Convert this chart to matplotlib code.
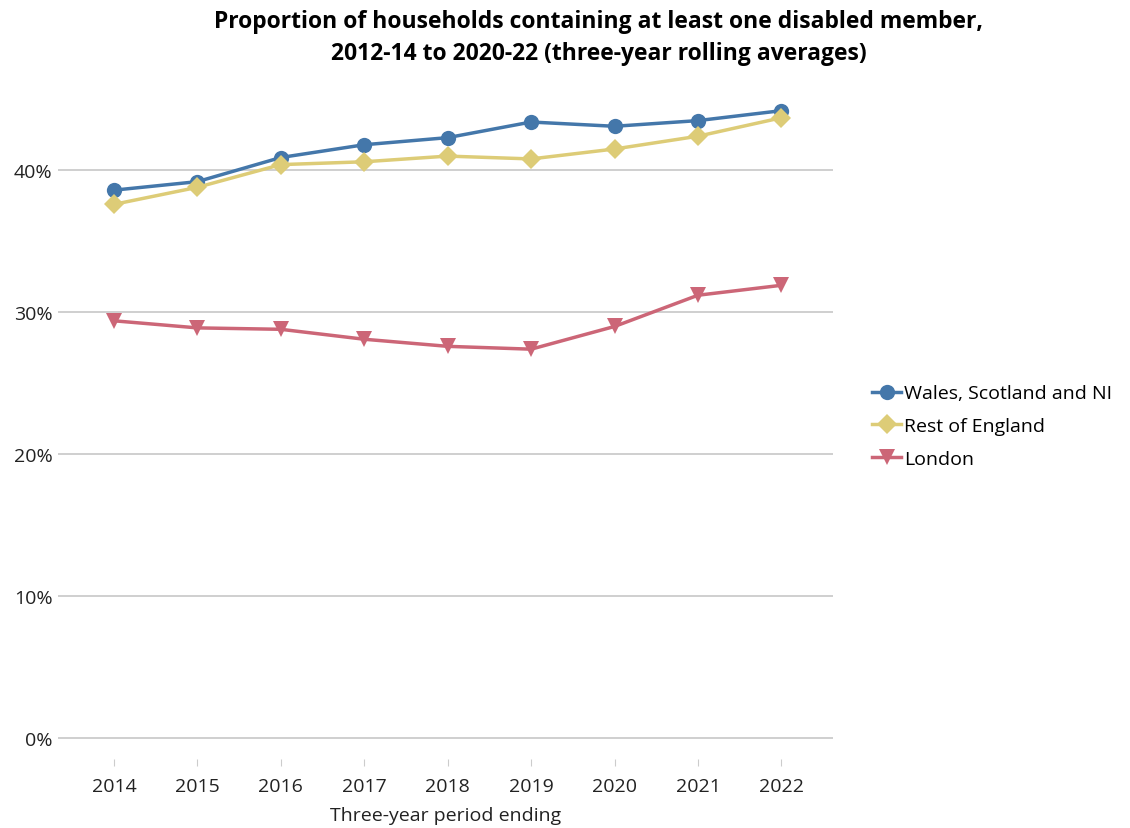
import matplotlib
matplotlib.use("Agg")
import matplotlib.pyplot as plt
from matplotlib.ticker import FuncFormatter

years = [2014, 2015, 2016, 2017, 2018, 2019, 2020, 2021, 2022]
wales_scotland_ni = [38.6, 39.2, 40.9, 41.8, 42.3, 43.4, 43.1, 43.5, 44.2]
rest_of_england = [37.6, 38.8, 40.4, 40.6, 41.0, 40.8, 41.5, 42.4, 43.7]
london = [29.4, 28.9, 28.8, 28.1, 27.6, 27.4, 29.0, 31.2, 31.9]
y_ticks = [0, 10, 20, 30, 40]

plt.rcParams['font.family'] = ['Open Sans', 'DejaVu Sans']

fig = plt.figure(figsize=(11.3, 8.29), dpi=100)
ax = fig.add_axes([0.0513, 0.083, 0.686, 0.796])

series = [
    ("Wales, Scotland and NI", wales_scotland_ni, "#4477AA", "o", 11),
    ("Rest of England", rest_of_england, "#DDCC77", "D", 10),
    ("London", london, "#CC6677", "v", 12),
]
for name, vals, col, mk, ms in series:
    ax.plot(years, vals, color=col, lw=2.5, marker=mk, markersize=ms,
            markeredgewidth=0, label=name, zorder=3)

ax.set_xlim(2013.33, 2022.62)
ax.set_ylim(-1.48, 45.0)
ax.set_yticks(y_ticks)
ax.yaxis.set_major_formatter(FuncFormatter(lambda v, p: f"{v:.0f}%"))
ax.set_xticks(years)
ax.set_xticklabels([str(y) for y in years])
ax.grid(axis='y', color='#cccccc', lw=1.3)
ax.set_axisbelow(True)
for s in ax.spines.values():
    s.set_visible(False)
ax.tick_params(axis='y', length=0, pad=4, labelsize=14, labelcolor='#222222')
ax.tick_params(axis='x', length=5, color='#cccccc', pad=8, labelsize=14,
               labelcolor='#222222', direction='out')
ax.set_xlabel("Three-year period ending", fontsize=14, color='#222222', labelpad=8)

fig.suptitle("Proportion of households containing at least one disabled member,\n"
             "2012-14 to 2020-22 (three-year rolling averages)",
             x=0.53, y=0.988, fontsize=16.5, fontweight='bold', linespacing=1.45)

leg = ax.legend(loc='center left', bbox_to_anchor=(1.04, 0.505), frameon=False,
                fontsize=14, handlelength=1.5, handletextpad=0.15,
                labelspacing=0.75, borderaxespad=0)

fig.savefig("out.png", dpi=100)
